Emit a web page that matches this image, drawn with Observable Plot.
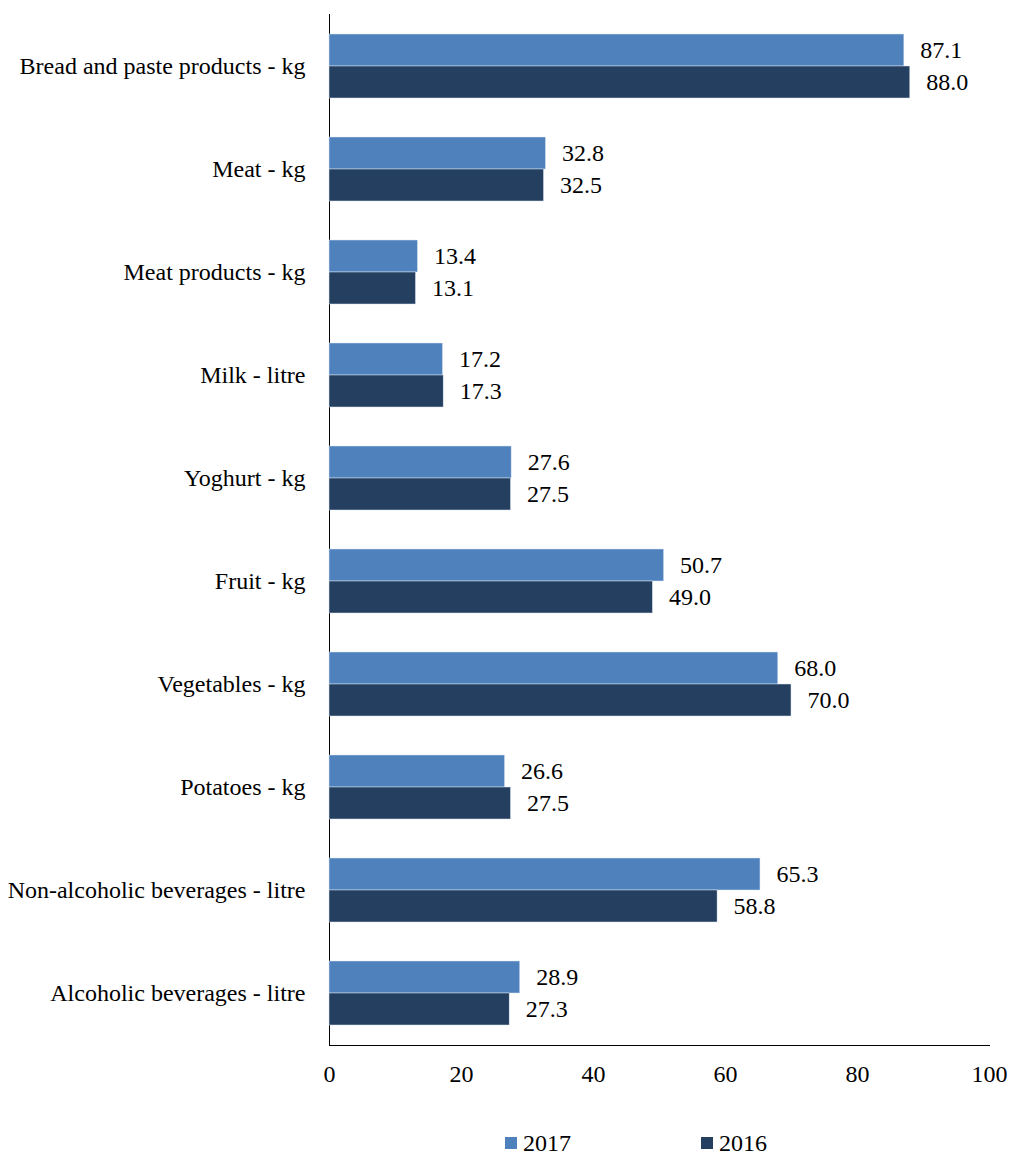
<!DOCTYPE html>
<html>
<head>
<meta charset="utf-8">
<script src="https://cdn.jsdelivr.net/npm/d3@7"></script>
<script src="https://cdn.jsdelivr.net/npm/@observablehq/plot@0.6"></script>
<style>
  body { margin: 0; background: #fff; font-family: "Liberation Serif", "Times New Roman", serif; }
  #wrap { position: relative; width: 1011px; height: 1155px; }
  #wrap svg, #wrap svg text, #wrap svg g { font-family: "Liberation Serif", "Times New Roman", serif !important; }
  .leg { position: absolute; top: 1132px; height: 22px; font-size: 24px; line-height: 22px; color: #000; display: flex; align-items: center; }
  .sw { width: 12px; height: 12px; margin-right: 6px; }
</style>
</head>
<body>
<div id="wrap"></div>
<script>
const categories = [
  "Bread and paste products - kg",
  "Meat - kg",
  "Meat products - kg",
  "Milk - litre",
  "Yoghurt - kg",
  "Fruit - kg",
  "Vegetables - kg",
  "Potatoes - kg",
  "Non-alcoholic beverages - litre",
  "Alcoholic beverages - litre"
];
const values2017 = [87.1, 32.8, 13.4, 17.2, 27.6, 50.7, 68.0, 26.6, 65.3, 28.9];
const values2016 = [88.0, 32.5, 13.1, 17.3, 27.5, 49.0, 70.0, 27.5, 58.8, 27.3];
const xTicks = [0, 20, 40, 60, 80, 100];
const years = ["2017", "2016"];
const colors = ["#4f81bd", "#243f60"];

const d17 = categories.map((c, i) => ({cat: c, v: values2017[i]}));
const d16 = categories.map((c, i) => ({cat: c, v: values2016[i]}));

const chart = Plot.plot({
  width: 1011,
  height: 1100,
  marginTop: 14,
  marginBottom: 55,
  marginLeft: 329,
  marginRight: 22,
  style: {fontSize: "24px", color: "#000", background: "#fff"},
  x: {domain: [0, 100], ticks: xTicks, tickSize: 0, tickPadding: 19, tickFormat: d => d, label: null, line: true},
  y: {domain: categories, paddingInner: 0.38, paddingOuter: 0.19, tickSize: 0, tickPadding: 24, label: null, line: true},
  marks: [
    Plot.barX(d17, {y: "cat", x: "v", fill: colors[0], insetBottom: 32, stroke: "#dce6f2", strokeWidth: 0.5}),
    Plot.barX(d16, {y: "cat", x: "v", fill: colors[1], insetTop: 32, stroke: "#dce6f2", strokeWidth: 0.5}),
    Plot.text(d17, {y: "cat", x: "v", text: d => d.v.toFixed(1), textAnchor: "start", dx: 16, dy: -16, fontSize: 24, fill: "#000"}),
    Plot.text(d16, {y: "cat", x: "v", text: d => d.v.toFixed(1), textAnchor: "start", dx: 16, dy: 16, fontSize: 24, fill: "#000"})
  ]
});
chart.querySelectorAll('[aria-label$="axis"] path').forEach(e => { e.setAttribute("stroke", "#898989"); });
const wrap = document.getElementById("wrap");
wrap.appendChild(chart);

const legPos = [505, 701];
years.forEach((y, i) => {
  const d = document.createElement("div");
  d.className = "leg";
  d.style.left = legPos[i] + "px";
  d.innerHTML = `<span class="sw" style="background:${colors[i]}"></span><span>${y}</span>`;
  wrap.appendChild(d);
});
</script>
</body>
</html>
